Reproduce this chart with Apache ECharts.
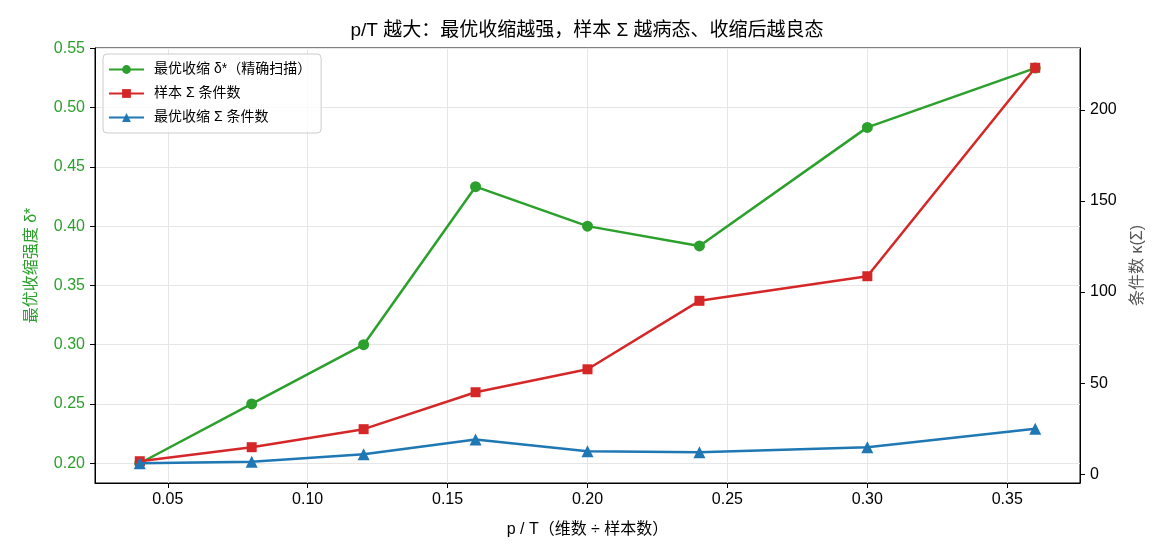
<!DOCTYPE html>
<html>
<head>
<meta charset="utf-8">
<script src="https://cdn.jsdelivr.net/npm/echarts@6/dist/echarts.min.js"></script>
<style>
  html, body { margin: 0; padding: 0; background: #fff; }
  #chart { width: 1170px; height: 559px; }
</style>
</head>
<body>
<div id="chart"></div>
<script>
// p/T 取值
const pRatio = [0.04, 0.08, 0.12, 0.16, 0.20, 0.24, 0.30, 0.36];
// 最优收缩强度 δ*（左轴）
const deltaOpt = [0.200, 0.250, 0.300, 0.4333, 0.400, 0.3833, 0.4833, 0.5333];
// 条件数（右轴）
const condSample = [7.1, 14.8, 24.7, 45.0, 57.6, 95.2, 108.7, 223.2];
const condShrunk = [6.0, 6.8, 10.9, 19.0, 12.6, 12.0, 14.8, 25.0];

// 刻度
const xTicks = [0.05, 0.10, 0.15, 0.20, 0.25, 0.30, 0.35];
const leftTicks = [0.20, 0.25, 0.30, 0.35, 0.40, 0.45, 0.50, 0.55];
const rightTicks = [0, 50, 100, 150, 200];

const FONT = '"Liberation Sans", "Noto Sans CJK SC", sans-serif';
const GREEN = '#2ca02c', RED = '#d62728', BLUE = '#1f77b4';

// 和 matplotlib 一样，两端各留 5% 边距
function padRange(arrs) {
  const all = [].concat(...arrs);
  const lo = Math.min(...all), hi = Math.max(...all);
  const pad = (hi - lo) * 0.05;
  return [lo - pad, hi + pad];
}
const xRange = padRange([pRatio]);
const leftRange = padRange([deltaOpt]);
leftRange[1] += 0.0003; // 让 0.55 刻度刚好落在上边框
const rightRange = padRange([condSample, condShrunk]);

const onTick = (ticks, digits) => v =>
  ticks.some(t => Math.abs(t - v) < 1e-9) ? v.toFixed(digits) : '';

const pairs = arr => pRatio.map((x, i) => [x, arr[i]]);

const chart = echarts.init(document.getElementById('chart'), null, { renderer: 'canvas' });

chart.setOption({
  animation: false,
  backgroundColor: '#fff',
  textStyle: { fontFamily: FONT },
  title: {
    text: 'p/T 越大：最优收缩越强，样本 Σ 越病态、收缩后越良态',
    left: 587, textAlign: 'center', top: 21, padding: 0,
    textStyle: { fontSize: 19, fontWeight: 'normal', color: '#000', fontFamily: FONT }
  },
  grid: {
    left: 95, right: 90, top: 48, bottom: 76,
    show: true, borderColor: '#000', borderWidth: 1, backgroundColor: 'transparent'
  },
  legend: {
    orient: 'vertical', left: 103, top: 54,
    padding: [8, 10, 8, 5], itemGap: 9, itemWidth: 35, itemHeight: 11,
    backgroundColor: 'rgba(255,255,255,0.8)', borderColor: '#cccccc', borderWidth: 1, borderRadius: 4,
    textStyle: { fontSize: 14, color: '#000', fontFamily: FONT, padding: [0, 0, 0, 5], lineHeight: 15 },
    data: ['最优收缩 δ*（精确扫描）', '样本 Σ 条件数', '最优收缩 Σ 条件数']
  },
  xAxis: {
    type: 'value', min: xRange[0], max: xRange[1], interval: 0.05,
    name: 'p / T（维数 ÷ 样本数）', nameLocation: 'middle', nameGap: 39,
    nameTextStyle: { fontSize: 16, color: '#000', fontFamily: FONT },
    axisLine: { show: true, onZero: false, lineStyle: { color: '#000', width: 1 } },
    axisTick: { show: true, inside: false, length: 5, customValues: xTicks, lineStyle: { color: '#000' } },
    axisLabel: { fontSize: 16, color: '#000', margin: 9, customValues: xTicks, formatter: onTick(xTicks, 2) },
    splitLine: { show: true, lineStyle: { color: '#e6e6e6', width: 1 } }
  },
  yAxis: [
    {
      type: 'value', position: 'left', min: leftRange[0], max: leftRange[1], interval: 0.05,
      name: '最优收缩强度 δ*', nameLocation: 'middle', nameGap: 55, nameRotate: 90,
      nameTextStyle: { fontSize: 16, color: GREEN, fontFamily: FONT },
      axisLine: { show: true, onZero: false, lineStyle: { color: '#000', width: 1 } },
      axisTick: { show: true, inside: false, length: 5, customValues: leftTicks, lineStyle: { color: '#000' } },
      axisLabel: { fontSize: 16, color: GREEN, margin: 10, customValues: leftTicks, formatter: onTick(leftTicks, 2) },
      splitLine: { show: true, lineStyle: { color: '#e6e6e6', width: 1 } }
    },
    {
      type: 'value', position: 'right', min: rightRange[0], max: rightRange[1], interval: 50,
      name: '条件数 κ(Σ)', nameLocation: 'middle', nameGap: 50, nameRotate: 90,
      nameTextStyle: { fontSize: 16, color: '#555', fontFamily: FONT },
      axisLine: { show: true, onZero: false, lineStyle: { color: '#000', width: 1 } },
      axisTick: { show: true, inside: false, length: 5, customValues: rightTicks, lineStyle: { color: '#000' } },
      axisLabel: { fontSize: 16, color: '#000', margin: 10, customValues: rightTicks, formatter: onTick(rightTicks, 0) },
      splitLine: { show: false }
    }
  ],
  series: [
    {
      name: '最优收缩 δ*（精确扫描）', type: 'line', yAxisIndex: 0, data: pairs(deltaOpt),
      symbol: 'circle', symbolSize: 11, color: GREEN,
      lineStyle: { color: GREEN, width: 2.5 }, itemStyle: { color: GREEN }, z: 3
    },
    {
      name: '样本 Σ 条件数', type: 'line', yAxisIndex: 1, data: pairs(condSample),
      symbol: 'rect', symbolSize: 10, color: RED,
      lineStyle: { color: RED, width: 2.5 }, itemStyle: { color: RED }, z: 4
    },
    {
      name: '最优收缩 Σ 条件数', type: 'line', yAxisIndex: 1, data: pairs(condShrunk),
      symbol: 'triangle', symbolSize: 12, color: BLUE,
      lineStyle: { color: BLUE, width: 2.5 }, itemStyle: { color: BLUE }, z: 5
    }
  ]
});

window.addEventListener('resize', () => chart.resize());
</script>
</body>
</html>
